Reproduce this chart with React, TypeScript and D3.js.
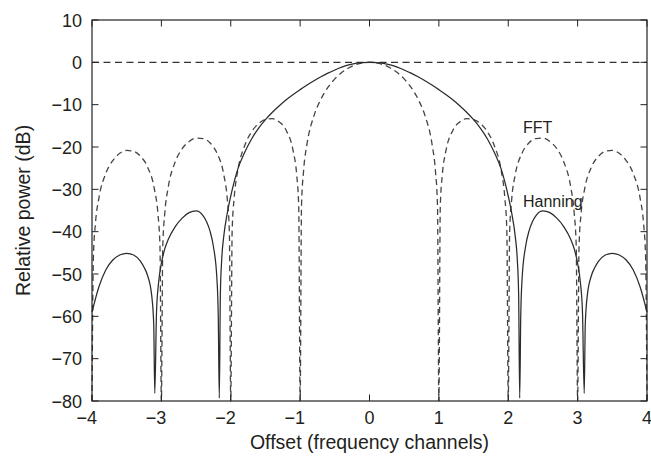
import React from 'react'
import * as d3 from 'd3'

const xTicks = [-4, -3, -2, -1, 0, 1, 2, 3, 4]
const yTicks = [10, 0, -10, -20, -30, -40, -50, -60, -70, -80]

// right half only (offset >= 0), both curves are symmetric about 0
const fftOffset = [
  0, 0.1, 0.2, 0.3, 0.4, 0.5, 0.6, 0.7, 0.8, 0.9, 0.95, 0.98, 1,
  1.02, 1.05, 1.1, 1.2, 1.3, 1.4, 1.5, 1.6, 1.7, 1.8, 1.9, 1.95, 1.98, 2,
  2.02, 2.05, 2.1, 2.2, 2.3, 2.4, 2.5, 2.6, 2.7, 2.8, 2.9, 2.95, 2.98, 3,
  3.02, 3.05, 3.1, 3.2, 3.3, 3.4, 3.5, 3.6, 3.7, 3.8, 3.9, 3.95, 3.98, 4
]
const fftPower = [
  0, -0.14, -0.58, -1.33, -2.42, -3.92, -5.94, -8.69, -12.6, -19.2, -25.6, -33.8, -80,
  -34.2, -26.5, -21.0, -16.1, -14.1, -13.3, -13.5, -14.5, -16.4, -19.7, -25.7, -31.9, -39.9, -80,
  -40.1, -32.3, -26.6, -21.4, -19.0, -18.0, -17.9, -18.7, -20.4, -23.5, -29.4, -35.5, -43.5, -80,
  -43.6, -35.7, -30.0, -24.7, -22.2, -21.0, -20.8, -21.5, -23.2, -26.2, -32.0, -38.0, -46.0, -80
]

const hanningOffset = [
  0, 0.1, 0.2, 0.3, 0.4, 0.5, 0.6, 0.7, 0.8, 0.9, 1, 1.1, 1.2, 1.3, 1.4, 1.5, 1.6, 1.7, 1.8, 1.9,
  1.95, 2, 2.05, 2.1, 2.13, 2.15, 2.165,
  2.18, 2.2, 2.25, 2.3, 2.35, 2.4, 2.5, 2.6, 2.7, 2.8, 2.9, 2.95, 3, 3.04, 3.07, 3.095,
  3.11, 3.14, 3.2, 3.25, 3.3, 3.4, 3.5, 3.6, 3.7, 3.8, 3.9, 4
]
const hanningPower = [
  0, -0.07, -0.27, -0.62, -1.13, -1.8, -2.55, -3.4, -4.33, -5.35, -6.45, -7.6, -8.85, -10.25, -11.8, -13.55, -15.6, -18.1, -21.3, -25.3,
  -28.2, -31.6, -35.6, -41, -46.5, -55, -79.3,
  -60, -51, -43.5, -39.8, -37.6, -36.2, -35.1, -35.5, -36.8, -38.8, -41.8, -44, -47.5, -52, -59, -78.2,
  -62, -55, -50.3, -48.4, -47, -45.5, -45.1, -45.5, -46.7, -49, -53, -59
]

const mirror = (xs: number[], ys: number[]): [number, number][] => {
  const right = xs.map((x, i) => [x, ys[i]] as [number, number])
  const left = right.filter(d => d[0] > 0).map(d => [-d[0], d[1]] as [number, number]).reverse()
  return [...left, ...right]
}

const fmt = (v: number) => (v < 0 ? '\u2212' + Math.abs(v) : String(v))

export default function App() {
  const width = 651
  const height = 462
  const plot = { left: 92, top: 20, right: 647, bottom: 401 }

  const x = d3.scaleLinear().domain([-4, 4]).range([plot.left, plot.right])
  const y = d3.scaleLinear().domain([-80, 10]).range([plot.bottom, plot.top])

  const line = d3.line<[number, number]>()
    .x(d => x(d[0]))
    .y(d => y(d[1]))
    .curve(d3.curveMonotoneX)

  const fftPath = line(mirror(fftOffset, fftPower)) || ''
  const hanningPath = line(mirror(hanningOffset, hanningPower)) || ''

  const font = '"Liberation Sans", Arial, Helvetica, sans-serif'
  const ink = '#231f20'
  const tickLen = 6.5

  return (
    <div style={{ position: 'absolute', left: 0, top: 0 }}>
      <svg width={width} height={height} style={{ display: 'block', background: '#fff' }} fontFamily={font}>
        {/* 0 dB reference */}
        <line x1={plot.left} x2={plot.right} y1={y(0)} y2={y(0)}
          stroke="#333" strokeWidth={1.1} strokeDasharray="7,4.5" />

        <path d={fftPath} fill="none" stroke="#444" strokeWidth={1.3} strokeDasharray="6,4" />
        <path d={hanningPath} fill="none" stroke="#2b2b2b" strokeWidth={1.25} />

        {/* frame */}
        <rect x={plot.left} y={plot.top} width={plot.right - plot.left} height={plot.bottom - plot.top}
          fill="none" stroke="#222" strokeWidth={1.2} />

        {xTicks.map(t => (
          <g key={'x' + t}>
            <line x1={x(t)} x2={x(t)} y1={plot.bottom} y2={plot.bottom - tickLen} stroke="#222" />
            <line x1={x(t)} x2={x(t)} y1={plot.top} y2={plot.top + tickLen} stroke="#222" />
            <text x={x(t) + 5} y={424} textAnchor="end" fontSize={18} fill={ink}>{fmt(t)}</text>
          </g>
        ))}

        {yTicks.map(t => (
          <g key={'y' + t}>
            <line x1={plot.left} x2={plot.left + tickLen} y1={y(t)} y2={y(t)} stroke="#222" />
            <line x1={plot.right} x2={plot.right - tickLen} y1={y(t)} y2={y(t)} stroke="#222" />
            <text x={82} y={y(t) + 6.5} textAnchor="end" fontSize={18} fill={ink}>{fmt(t)}</text>
          </g>
        ))}

        <text x={523} y={132.5} fontSize={16} fill={ink}>FFT</text>
        <text x={523} y={207} fontSize={16} fill={ink}>Hanning</text>

        <text x={(plot.left + plot.right) / 2} y={449} textAnchor="middle" fontSize={19.5} fill={ink}>
          Offset (frequency channels)
        </text>
        <text transform={`translate(30, ${(plot.top + plot.bottom) / 2}) rotate(-90)`} textAnchor="middle"
          fontSize={19.5} fill={ink}>
          Relative power (dB)
        </text>
      </svg>
    </div>
  )
}
